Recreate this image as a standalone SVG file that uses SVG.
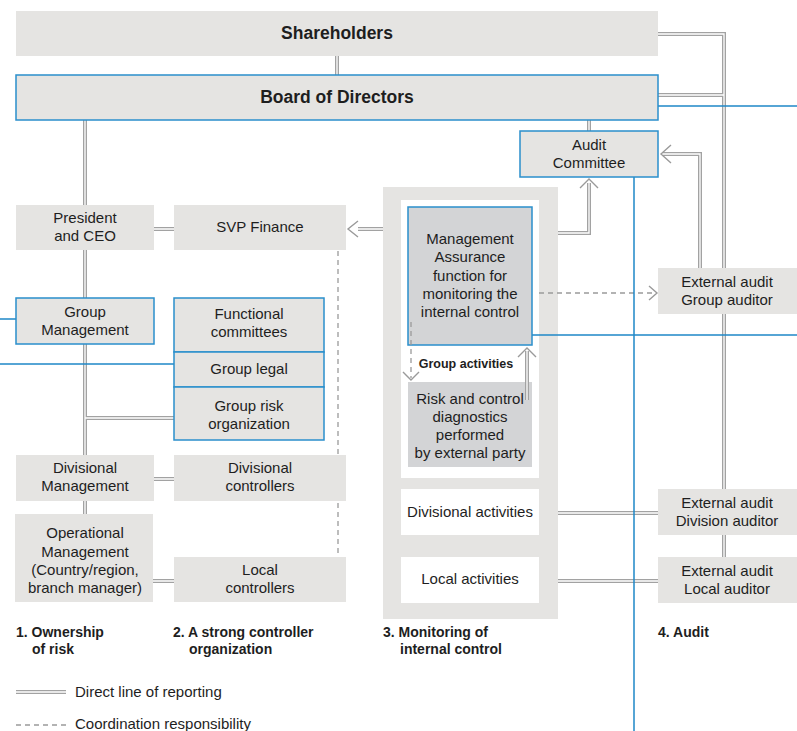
<svg xmlns="http://www.w3.org/2000/svg" width="797" height="731" viewBox="0 0 797 731">
<style>
  .box{fill:#e5e4e2}
  .bl{stroke:#2a8fcc;stroke-width:1.5}
  .dk{fill:#d3d4d6}
  .wh{fill:#ffffff}
  text{font-family:"Liberation Sans",Arial,sans-serif;font-size:15px;fill:#1e1e1e;text-anchor:middle}
  .b{font-weight:bold}
  .hd{font-size:17.5px;font-weight:bold}
  .lab{font-size:14px;font-weight:bold;text-anchor:start}
  .leg{text-anchor:start}
  .d1{fill:none;stroke:#a2a2a2;stroke-width:4}
  .d2{fill:none;stroke:#ffffff;stroke-width:1.3}
  .ds{fill:none;stroke:#9a9a9a;stroke-width:1.3;stroke-dasharray:5,4}
  .ah{fill:none;stroke:#9a9a9a;stroke-width:1.4}
  .blue{fill:none;stroke:#1f88c8;stroke-width:1.5}
</style>
<rect width="797" height="731" fill="#ffffff"/>

<g id="monitoring">
  <rect class="box" x="383" y="187" width="175" height="432"/>
  <rect class="wh" x="401" y="200" width="138" height="278"/>
</g>

<g id="connectors">
  <path class="d1" d="M337,56V75 M658,34H724V489 M658,95H724 M724,535V557 M85,120V514 M154,229H174 M85,418H174 M154,479H174 M153,581H174 M589,120V131 M558,233H589V183 M700,268V154H663 M358,229H383 M558,513H658 M558,581H658 M16,692H66"/>
  <path class="d2" d="M337,56V75 M658,34H724V489 M658,95H724 M724,535V557 M85,120V514 M154,229H174 M85,418H174 M154,479H174 M153,581H174 M589,120V131 M558,233H589V183 M700,268V154H663 M358,229H383 M558,513H658 M558,581H658 M16,692H66"/>
  <path class="ds" d="M338,251V557"/>
  <path class="ds" d="M539,293H655"/>
  <path class="ds" d="M16,725H66"/>
  <polyline class="ah" points="358,221 348,229 358,237"/>
  <polyline class="ah" points="580,188 589,179 598,188"/>
  <polyline class="ah" points="671,145 661,154 671,163"/>
  <polyline class="ah" points="649,286 657,293 649,300"/>
  <path class="blue" d="M658,106H797 M634,177V731 M532,335H797 M0,319H16 M0,364H174"/>
</g>

<g id="shareholders">
  <rect class="box" x="16" y="11" width="642" height="45"/>
  <text class="hd" x="337" y="39">Shareholders</text>
</g>
<g id="board">
  <rect class="box bl" x="16" y="75" width="642" height="45"/>
  <text class="hd" x="337" y="103">Board of Directors</text>
</g>
<g id="audit-committee">
  <rect class="box bl" x="520" y="131" width="138" height="46"/>
  <text x="589" y="150">Audit</text>
  <text x="589" y="168">Committee</text>
</g>

<g id="ceo">
  <rect class="box" x="16" y="205" width="138" height="45"/>
  <text x="85" y="223">President</text>
  <text x="85" y="241">and CEO</text>
</g>
<g id="svp-finance">
  <rect class="box" x="174" y="205" width="172" height="45"/>
  <text x="260" y="232">SVP Finance</text>
</g>
<g id="group-management">
  <rect class="box bl" x="16" y="298" width="138" height="46"/>
  <text x="85" y="317">Group</text>
  <text x="85" y="335">Management</text>
</g>
<g id="functional-committees">
  <rect class="box bl" x="174" y="298" width="150" height="54"/>
  <text x="249" y="319">Functional</text>
  <text x="249" y="337">committees</text>
</g>
<g id="group-legal">
  <rect class="box bl" x="174" y="352" width="150" height="35"/>
  <text x="249" y="374">Group legal</text>
</g>
<g id="group-risk">
  <rect class="box bl" x="174" y="387" width="150" height="53"/>
  <text x="249" y="411">Group risk</text>
  <text x="249" y="429">organization</text>
</g>
<g id="divisional-management">
  <rect class="box" x="16" y="455" width="138" height="46"/>
  <text x="85" y="473">Divisional</text>
  <text x="85" y="491">Management</text>
</g>
<g id="divisional-controllers">
  <rect class="box" x="174" y="455" width="172" height="46"/>
  <text x="260" y="473">Divisional</text>
  <text x="260" y="491">controllers</text>
</g>
<g id="operational-management">
  <rect class="box" x="15" y="514" width="138" height="88"/>
  <text x="85" y="538">Operational</text>
  <text x="85" y="556.5">Management</text>
  <text x="85" y="575">(Country/region,</text>
  <text x="85" y="593">branch manager)</text>
</g>
<g id="local-controllers">
  <rect class="box" x="174" y="557" width="172" height="45"/>
  <text x="260" y="575">Local</text>
  <text x="260" y="593">controllers</text>
</g>

<g id="management-assurance">
  <rect class="dk bl" x="408" y="207" width="124" height="138"/>
  <text x="470" y="244">Management</text>
  <text x="470" y="262">Assurance</text>
  <text x="470" y="280.5">function for</text>
  <text x="470" y="298.5">monitoring the</text>
  <text x="470" y="316.5">internal control</text>
</g>
<g id="group-activities">
  <text class="b" x="466" y="368" style="font-size:12.5px">Group activities</text>
</g>
<g id="risk-diagnostics">
  <rect class="dk" x="408" y="382" width="124" height="85"/>
  <text x="470" y="404">Risk and control</text>
  <text x="470" y="422">diagnostics</text>
  <text x="470" y="440">performed</text>
  <text x="470" y="458">by external party</text>
</g>
<g id="divisional-activities">
  <rect class="wh" x="401" y="489" width="138" height="46"/>
  <text x="470" y="517">Divisional activities</text>
</g>
<g id="local-activities">
  <rect class="wh" x="401" y="557" width="138" height="46"/>
  <text x="470" y="584">Local activities</text>
</g>

<g id="group-auditor">
  <rect class="box" x="658" y="268" width="139" height="46"/>
  <text x="727" y="287">External audit</text>
  <text x="727" y="305">Group auditor</text>
</g>
<g id="division-auditor">
  <rect class="box" x="658" y="489" width="139" height="46"/>
  <text x="727" y="508">External audit</text>
  <text x="727" y="526">Division auditor</text>
</g>
<g id="local-auditor">
  <rect class="box" x="658" y="557" width="139" height="46"/>
  <text x="727" y="576">External audit</text>
  <text x="727" y="594">Local auditor</text>
</g>

<g id="connectors-inner">
  <path class="d1" d="M527,400V351"/>
  <path class="d2" d="M527,400V351"/>
  <polyline class="ah" points="518,357 527,348 536,357"/>
  <path class="ds" d="M411,322V378"/>
  <polyline class="ah" points="403,372 411,380 419,372"/>
</g>

<g id="labels">
  <text class="lab" x="16" y="637">1. Ownership</text>
  <text class="lab" x="32" y="654">of risk</text>
  <text class="lab" x="173" y="637">2. A strong controller</text>
  <text class="lab" x="189" y="654">organization</text>
  <text class="lab" x="383" y="637">3. Monitoring of</text>
  <text class="lab" x="400" y="654">internal control</text>
  <text class="lab" x="658" y="637">4. Audit</text>
</g>
<g id="legend">
  <text class="leg" x="75" y="697">Direct line of reporting</text>
  <text class="leg" x="75" y="729">Coordination responsibility</text>
</g>
</svg>
